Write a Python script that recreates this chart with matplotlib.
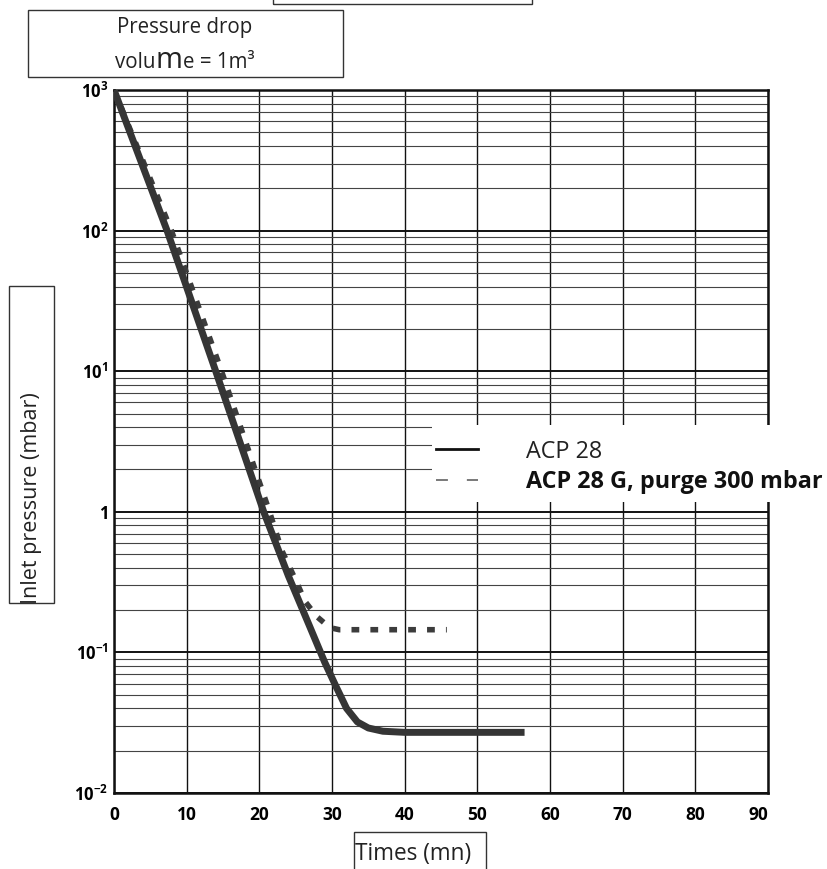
import matplotlib
matplotlib.use("Agg")
import matplotlib.pyplot as plt
from matplotlib.patches import Rectangle
from matplotlib.lines import Line2D
from matplotlib.ticker import LogLocator, FixedLocator, FixedFormatter, NullFormatter
from matplotlib.offsetbox import TextArea, HPacker, AnnotationBbox

# ---------------- data ----------------
acp28_time = [0, 7.3, 14.0, 20.6, 24.0, 27.0, 29.0, 30.5, 32.0, 33.5, 35.0, 37.0, 40.0, 56.5]
acp28_pressure = [1000, 100, 10, 1, 0.35, 0.15, 0.085, 0.058, 0.040, 0.032, 0.029, 0.0275, 0.027, 0.027]

acp28g_time = [0, 7.9, 14.8, 21.4, 23.1, 24.2, 25.2, 26.3, 27.9, 29.7, 31.0, 45.8]
acp28g_pressure = [1000, 100, 10, 1, 0.53, 0.40, 0.31, 0.23, 0.18, 0.15, 0.145, 0.145]

series_labels = ["ACP 28", "ACP 28 G, purge 300 mbar"]
x_ticks = [0, 10, 20, 30, 40, 50, 60, 70, 80, 90]
y_ticks = [1e-2, 1e-1, 1, 10, 100, 1000]
y_tick_labels = [r"$10^{-2}$", r"$10^{-1}$", "1", r"$10^{1}$", r"$10^{2}$", r"$10^{3}$"]
title_line1 = "Pressure drop"
title_line2 = ["volu", "m", "e = 1m\u00b3"]
y_label = "Inlet pressure (mbar)"
x_label = "Times (mn)"

# ---------------- style ----------------
plt.rcParams["font.family"] = ["Open Sans", "DejaVu Sans"]
plt.rcParams["mathtext.default"] = "regular"

W, H, DPI = 827, 869, 100
fig = plt.figure(figsize=(W / DPI, H / DPI), dpi=DPI)
fig.patch.set_facecolor("white")


def fx(x):
    return x / W


def fy(y):
    return 1 - y / H


def frect(x0, y0, x1, y1, lw=1.0, ec="#333333", fc="none", z=2, fill=False):
    r = Rectangle((fx(x0), fy(y1)), fx(x1) - fx(x0), fy(y0) - fy(y1),
                  transform=fig.transFigure, fill=fill, ec=ec, fc=fc, lw=lw, zorder=z)
    fig.add_artist(r)
    return r


ax_l, ax_r, ax_t, ax_b = 114, 768, 90, 793
ax = fig.add_axes([fx(ax_l), fy(ax_b), fx(ax_r) - fx(ax_l), fy(ax_t) - fy(ax_b)])

ax.set_yscale("log")
ax.set_xlim(0, 90)
ax.set_ylim(1e-2, 1e3)

# curves
ax.plot(acp28g_time, acp28g_pressure, color="#3c3c3c", lw=4.0,
        ls=(0, (1.4, 2.0)), dash_capstyle="butt", zorder=4, solid_joinstyle="round")
ax.plot(acp28_time, acp28_pressure, color="#353535", lw=5.0,
        solid_capstyle="butt", solid_joinstyle="round", zorder=5)

# ticks / grid
ax.xaxis.set_major_locator(FixedLocator(x_ticks))
ax.set_xticklabels([str(t) for t in x_ticks])
ax.yaxis.set_major_locator(FixedLocator(y_ticks))
ax.yaxis.set_major_formatter(FixedFormatter(y_tick_labels))
ax.yaxis.set_minor_locator(LogLocator(base=10, subs=range(2, 10), numticks=20))
ax.yaxis.set_minor_formatter(NullFormatter())

ax.tick_params(axis="both", which="both", length=0)
ax.tick_params(axis="x", pad=9, labelsize=12.5)
ax.tick_params(axis="y", pad=4, labelsize=12)
for lab in ax.get_xticklabels() + ax.get_yticklabels():
    lab.set_fontweight("bold")
ax.get_xticklabels()[-1].set_horizontalalignment("right")

ax.grid(which="major", axis="x", color="#111111", lw=1.0)
ax.grid(which="major", axis="y", color="#111111", lw=1.4)
ax.grid(which="minor", axis="y", color="#444444", lw=0.8)
ax.set_axisbelow(True)

for sp in ax.spines.values():
    sp.set_linewidth(1.8)
    sp.set_color("#111111")

# ---------------- annotations / boxes ----------------
# partial box at top
frect(273, -20, 532, 4, lw=1.0)

# title box
frect(28, 10, 343, 77, lw=1.0)
fig.text(fx(185), fy(28), title_line1, ha="center", va="center", fontsize=14.8, color="#222222")
packer = HPacker(children=[
    TextArea(title_line2[0], textprops=dict(fontsize=14.8, color="#222222")),
    TextArea(title_line2[1], textprops=dict(fontsize=21, color="#222222")),
    TextArea(title_line2[2], textprops=dict(fontsize=14.8, color="#222222")),
], align="baseline", pad=0, sep=0)
ab = AnnotationBbox(packer, (fx(185), fy(61)), xycoords="figure fraction",
                    frameon=False, box_alignment=(0.5, 0.5), pad=0)
fig.add_artist(ab)

# y label box
frect(9, 286, 54, 603, lw=1.0)
fig.text(fx(32), fy(604), y_label, rotation=90, ha="center", va="bottom",
         fontsize=15.5, color="#222222")

# x label box
frect(354, 832, 486, 900, lw=1.0)
fig.text(fx(355), fy(854), x_label, ha="left", va="center", fontsize=16.3, color="#222222")

# legend: white backing + entries
frect(432, 425, 827, 502, lw=0, ec="none", fc="white", fill=True, z=3)
handles = [Line2D([], [], color="#111111", lw=2.0),
           Line2D([], [], color="#555555", lw=1.1, ls=(0, (7.8, 12.4)))]
leg = fig.legend(handles, series_labels, loc="center left",
                 bbox_to_anchor=(fx(436), fy(467)), bbox_transform=fig.transFigure,
                 frameon=False, fontsize=16.8, handlelength=1.8, handletextpad=2.05,
                 labelspacing=0.3, borderpad=0, borderaxespad=0)
leg.set_zorder(4)
texts = leg.get_texts()
texts[0].set_color("#222222")
texts[1].set_fontweight("bold")
texts[1].set_color("#111111")

fig.savefig("out.png", dpi=DPI, facecolor="white")
